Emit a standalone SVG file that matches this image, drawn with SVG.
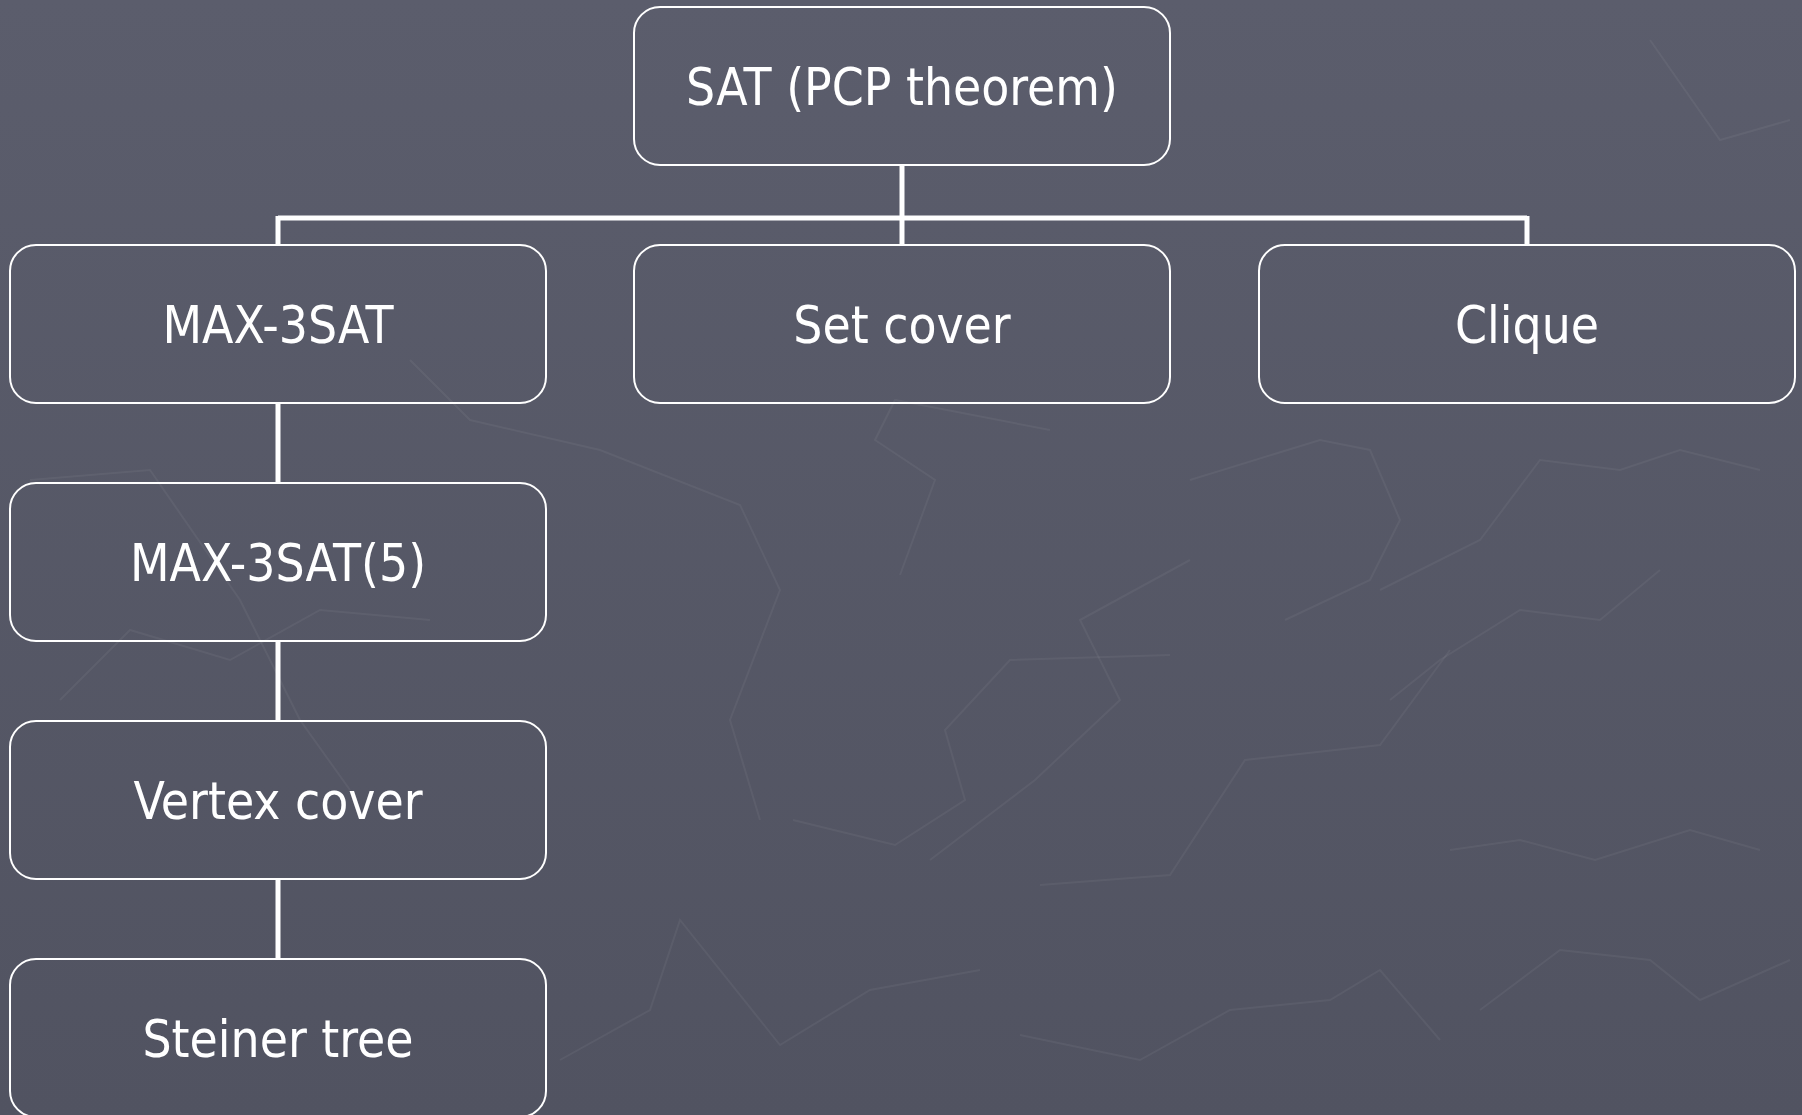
<svg xmlns="http://www.w3.org/2000/svg" width="1802" height="1115" viewBox="0 0 1802 1115">
<defs>
<linearGradient id="bg" x1="0" y1="0" x2="0" y2="1">
<stop offset="0" stop-color="#5b5d6c"/>
<stop offset="1" stop-color="#515361"/>
</linearGradient>
<style>
.box{fill:none;stroke:#ffffff;stroke-width:2}
.lbl{fill:#ffffff;font-family:"DejaVu Sans Condensed","DejaVu Sans",sans-serif;font-stretch:condensed;font-size:51px;text-anchor:middle}
.con{fill:none;stroke:#ffffff;stroke-width:5}
.tex{fill:none;stroke:#ffffff;stroke-opacity:0.05;stroke-width:2}
</style>
</defs>
<rect width="1802" height="1115" fill="url(#bg)"/>
<g id="texture">
<polyline class="tex" points="410,360 470,420 600,450 740,505 780,590 730,720 760,820"/>
<polyline class="tex" points="900,575 935,480 875,440 895,400 1050,430"/>
<polyline class="tex" points="793,820 895,845 965,800 945,730 1010,660 1170,655"/>
<polyline class="tex" points="930,860 1035,780 1120,700 1080,620 1190,560"/>
<polyline class="tex" points="1040,885 1170,875 1245,760 1380,745 1450,650"/>
<polyline class="tex" points="1190,480 1320,440 1370,450 1400,520 1370,580 1285,620"/>
<polyline class="tex" points="1390,700 1440,660 1520,610 1600,620 1660,570"/>
<polyline class="tex" points="1380,590 1480,540 1540,460 1620,470 1680,450 1760,470"/>
<polyline class="tex" points="1450,850 1520,840 1595,860 1690,830 1760,850"/>
<polyline class="tex" points="1480,1010 1560,950 1650,960 1700,1000 1790,960"/>
<polyline class="tex" points="560,1060 650,1010 680,920 780,1045 870,990 980,970"/>
<polyline class="tex" points="1020,1035 1140,1060 1230,1010 1330,1000 1380,970 1440,1040"/>
<polyline class="tex" points="1650,40 1720,140 1790,120"/>
<polyline class="tex" points="30,480 150,470 240,600 300,720 350,790"/>
<polyline class="tex" points="60,700 130,630 230,660 320,610 430,620"/>
</g>
<g id="connectors">
<line class="con" x1="902" y1="166" x2="902" y2="245"/>
<line class="con" x1="278" y1="218" x2="1527" y2="218"/>
<line class="con" x1="278" y1="216" x2="278" y2="245"/>
<line class="con" x1="1527" y1="216" x2="1527" y2="245"/>
<line class="con" x1="278" y1="403" x2="278" y2="483"/>
<line class="con" x1="278" y1="641" x2="278" y2="721"/>
<line class="con" x1="278" y1="879" x2="278" y2="959"/>
</g>
<g id="node-sat">
<rect class="box" x="634" y="7" width="536" height="158" rx="26"/>
<text class="lbl" x="902" y="105">SAT (PCP theorem)</text>
</g>
<g id="node-max3sat">
<rect class="box" x="10" y="245" width="536" height="158" rx="26"/>
<text class="lbl" x="278" y="343">MAX-3SAT</text>
</g>
<g id="node-setcover">
<rect class="box" x="634" y="245" width="536" height="158" rx="26"/>
<text class="lbl" x="902" y="343">Set cover</text>
</g>
<g id="node-clique">
<rect class="box" x="1259" y="245" width="536" height="158" rx="26"/>
<text class="lbl" x="1527" y="343">Clique</text>
</g>
<g id="node-max3sat5">
<rect class="box" x="10" y="483" width="536" height="158" rx="26"/>
<text class="lbl" x="278" y="581">MAX-3SAT(5)</text>
</g>
<g id="node-vertexcover">
<rect class="box" x="10" y="721" width="536" height="158" rx="26"/>
<text class="lbl" x="278" y="819">Vertex cover</text>
</g>
<g id="node-steiner">
<rect class="box" x="10" y="959" width="536" height="158" rx="26"/>
<text class="lbl" x="278" y="1057">Steiner tree</text>
</g>
</svg>
